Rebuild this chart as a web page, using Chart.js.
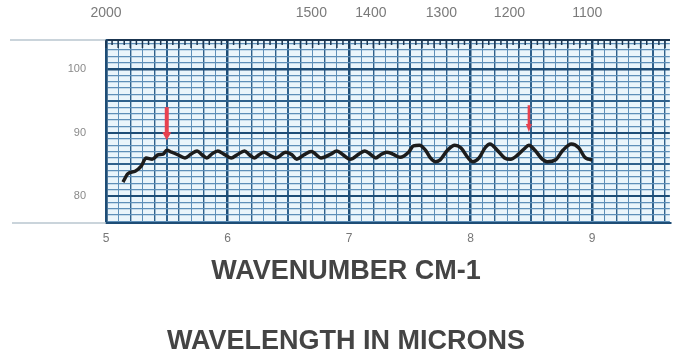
<!DOCTYPE html>
<html>
<head>
<meta charset="utf-8">
<script src="https://cdn.jsdelivr.net/npm/chart.js@4.4.1/dist/chart.umd.min.js"></script>
<style>
  html, body { margin: 0; padding: 0; background: #fff; }
  canvas { display: block; }
</style>
</head>
<body>
<canvas id="irChart" width="673" height="351"></canvas>
<script>
const wavelength = [5.14,5.18,5.24,5.29,5.33,5.38,5.43,5.47,5.50,5.54,5.59,5.65,5.70,5.75,5.79,5.83,5.87,5.92,5.97,6.03,
  6.08,6.14,6.18,6.22,6.26,6.30,6.34,6.40,6.48,6.53,6.57,6.63,6.69,6.77,6.85,6.90,6.95,7.01,7.08,7.13,
  7.18,7.22,7.26,7.31,7.36,7.42,7.49,7.53,7.58,7.63,7.67,7.71,7.75,7.81,7.87,7.92,7.98,8.02,8.07,8.12,
  8.16,8.22,8.28,8.33,8.39,8.44,8.48,8.53,8.59,8.63,8.70,8.76,8.83,8.89,8.94,8.97,9.00];
const transmittance = [82.2,83.5,83.9,84.7,86.0,85.8,86.5,86.6,87.2,86.9,86.5,86.0,86.6,87.1,86.5,86.0,86.6,87.1,86.6,86.0,
  86.5,87.1,86.5,86.0,86.5,86.9,86.5,86.0,86.9,86.5,85.8,86.5,87.0,86.0,86.6,87.1,86.5,85.8,86.6,87.1,
  86.5,86.0,86.5,86.9,86.6,86.1,86.9,87.9,88.0,87.2,86.0,85.4,85.7,87.2,88.0,87.6,86.0,85.4,86.0,87.6,
  88.2,87.2,86.0,85.8,86.5,87.4,88.0,87.2,85.8,85.4,85.7,87.2,88.2,87.6,86.1,85.8,85.7];

// escala de número de onda no topo (posição em microns)
const topTickMicrons = [5.0, 6.69, 7.18, 7.76, 8.32, 8.96];
const topTickLabels = ["2000", "1500", "1400", "1300", "1200", "1100"];

// setas vermelhas
const arrowX = [5.5, 8.48];
const arrowTop = [94.0, 94.3];
const arrowTip = [88.8, 90.1];

const GRID_DARK = "#1e4d76";
const GRID_MID = "#2f618c";
const GRID_LIGHT = "#5e8fb8";
const TITLE_FONT = "bold 27px 'Liberation Sans', Arial, sans-serif";

const paperPlugin = {
  id: "paper",
  beforeDraw(chart) {
    const { ctx, chartArea: a } = chart;
    ctx.save();
    ctx.fillStyle = "#eaf5fb";
    ctx.fillRect(a.left, a.top, a.right - a.left, a.bottom - a.top);
    ctx.restore();
  },
  afterDraw(chart) {
    const { ctx, chartArea: a } = chart;
    ctx.save();
    // linhas cinzas que continuam para a esquerda
    ctx.strokeStyle = "#b9c6cf";
    ctx.lineWidth = 1.5;
    ctx.beginPath();
    ctx.moveTo(10, a.top); ctx.lineTo(a.left, a.top);
    ctx.moveTo(12, a.bottom); ctx.lineTo(a.left, a.bottom);
    ctx.stroke();
    // marquinhas da escala de topo
    const xs = chart.scales.x;
    ctx.strokeStyle = "#1a3550";
    ctx.lineWidth = 1.5;
    for (let i = 100; i <= 192; i++) {
      const px = xs.getPixelForValue(i / 20);
      const len = i % 2 === 0 ? 8 : 5;
      ctx.beginPath();
      ctx.moveTo(px, a.top);
      ctx.lineTo(px, a.top + len);
      ctx.stroke();
    }
    // títulos
    ctx.fillStyle = "#444";
    ctx.font = TITLE_FONT;
    ctx.textAlign = "center";
    ctx.textBaseline = "alphabetic";
    ctx.fillText("WAVENUMBER CM-1", 346, a.bottom + 56);
    ctx.fillText("WAVELENGTH IN MICRONS", 346, a.bottom + 126);
    ctx.restore();
  },
  afterDatasetsDraw(chart) {
    const { ctx } = chart;
    const xs = chart.scales.x, ys = chart.scales.y;
    ctx.save();
    ctx.fillStyle = "#e8414f";
    ctx.strokeStyle = "#e8414f";
    arrowX.forEach((x, i) => {
      const px = xs.getPixelForValue(x);
      const top = ys.getPixelForValue(arrowTop[i]);
      const tip = ys.getPixelForValue(arrowTip[i]);
      const w = i === 0 ? 4 : 2.5;
      const head = i === 0 ? 4.5 : 3;
      ctx.lineWidth = w;
      ctx.beginPath();
      ctx.moveTo(px, top); ctx.lineTo(px, tip - 7);
      ctx.stroke();
      ctx.beginPath();
      ctx.moveTo(px - head, tip - 8);
      ctx.lineTo(px + head, tip - 8);
      ctx.lineTo(px, tip);
      ctx.closePath();
      ctx.fill();
    });
    ctx.restore();
  }
};

new Chart(document.getElementById("irChart"), {
  type: "line",
  data: {
    datasets: [{
      data: wavelength.map((w, i) => ({ x: w, y: transmittance[i] })),
      borderColor: "#1c1c1c",
      borderWidth: 3.5,
      pointRadius: 0,
      cubicInterpolationMode: "monotone",
      fill: false
    }]
  },
  options: {
    responsive: false,
    animation: false,
    devicePixelRatio: 1,
    layout: { padding: 0 },
    plugins: {
      legend: { display: false },
      tooltip: { enabled: false },
      title: { display: false }
    },
    scales: {
      x: {
        type: "linear",
        position: "bottom",
        min: 5,
        max: 9.64,
        afterBuildTicks(scale) {
          const t = [];
          for (let i = 50; i <= 96; i++) t.push({ value: i / 10 });
          scale.ticks = t;
        },
        afterFit(scale) { scale.height = 128; },
        ticks: {
          autoSkip: false,
          maxRotation: 0,
          padding: 8,
          color: "#777",
          font: { family: "Liberation Sans, Arial, sans-serif", size: 12 },
          callback: v => (Math.round(v * 10) % 10 === 0 ? String(Math.round(v)) : "")
        },
        grid: {
          drawTicks: false,
          color: c => {
            const k = Math.round(c.tick.value * 10);
            if (k % 10 === 0) return GRID_DARK;
            if (k % 5 === 0 || k % 2 === 0) return GRID_MID;
            return GRID_LIGHT;
          },
          lineWidth: c => {
            const k = Math.round(c.tick.value * 10);
            if (k % 10 === 0) return 2.5;
            if (k % 5 === 0) return 2;
            return k % 2 === 0 ? 1.4 : 1;
          }
        },
        border: { color: GRID_DARK, width: 2 }
      },
      x2: {
        type: "linear",
        position: "top",
        min: 5,
        max: 9.64,
        afterBuildTicks(scale) {
          scale.ticks = topTickMicrons.map(v => ({ value: v }));
        },
        afterFit(scale) { scale.height = 40; },
        ticks: {
          autoSkip: false,
          maxRotation: 0,
          padding: 10,
          color: "#7a7a7a",
          font: { family: "Liberation Sans, Arial, sans-serif", size: 14 },
          callback: (v, i) => topTickLabels[i]
        },
        grid: { display: false },
        border: { color: "#1a3550", width: 2 }
      },
      y: {
        type: "linear",
        position: "left",
        min: 75.75,
        max: 104.57,
        afterBuildTicks(scale) {
          const t = [];
          for (let v = 76; v <= 104; v++) t.push({ value: v });
          scale.ticks = t;
        },
        afterFit(scale) { scale.width = 106; },
        ticks: {
          autoSkip: false,
          padding: 20,
          color: "#8a8a8a",
          font: { family: "Liberation Sans, Arial, sans-serif", size: 11 },
          callback: v => (v % 10 === 0 ? String(v) : "")
        },
        grid: {
          drawTicks: false,
          color: c => {
            const v = c.tick.value;
            if (v % 10 === 0) return GRID_DARK;
            if (v % 5 === 0) return GRID_MID;
            return GRID_LIGHT;
          },
          lineWidth: c => {
            const v = c.tick.value;
            if (v === 100) return 2.5;
            if (v % 5 === 0) return 2;
            return 1.2;
          }
        },
        border: { color: GRID_DARK, width: 2.5 }
      }
    }
  },
  plugins: [paperPlugin]
});
</script>
</body>
</html>
